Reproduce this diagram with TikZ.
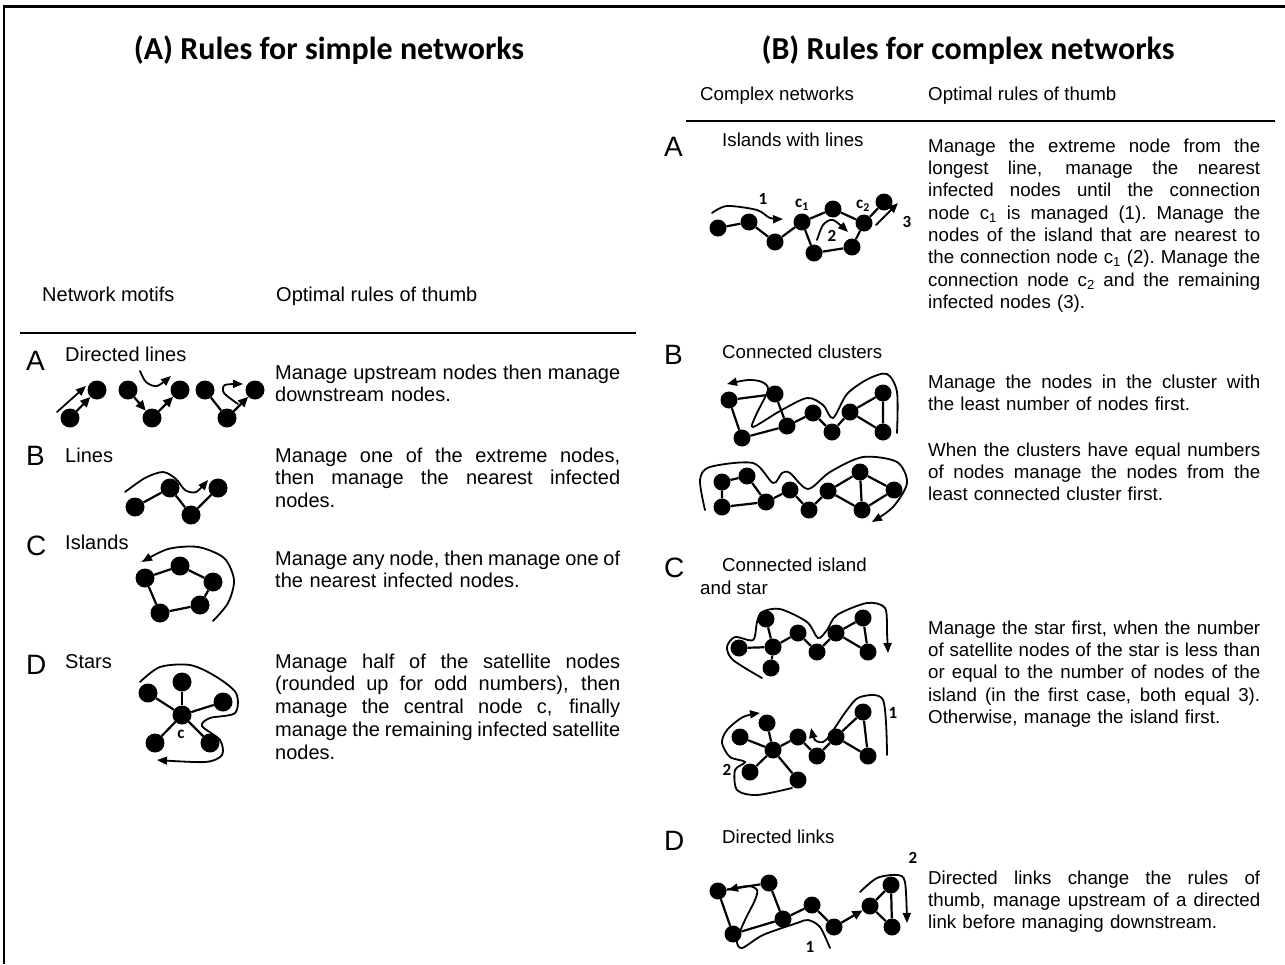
\documentclass[tikz,border=0pt]{standalone}
\usepackage{fontspec}
\setmainfont{Liberation Sans}
\newfontfamily\titlefont{Carlito}
\usetikzlibrary{arrows.meta}
\newcommand\jlA[1]{{\spaceskip=.278em plus 1em minus .1em\xspaceskip=\spaceskip\makebox[345pt][s]{#1}}}
\newcommand\jlB[1]{{\spaceskip=.278em plus 1em minus .1em\xspaceskip=\spaceskip\makebox[332pt][s]{#1}}}
\tikzset{
 dot/.style={circle, fill=black, draw=none, inner sep=0pt, minimum size=19pt},
 sdot/.style={circle, fill=black, draw=none, inner sep=0pt, minimum size=17pt},
 lnk/.style={line width=2.2pt},
 darr/.style={line width=2.2pt, -{Triangle[length=10pt,width=9pt]}},
 mpath/.style={line width=1.8pt, line cap=round, -{Triangle[length=10pt,width=8pt]}},
 txt/.style={font=\fontsize{20}{22.8}\selectfont, inner sep=0pt, anchor=base west, align=left},
 txtr/.style={font=\fontsize{18.7}{22.35}\selectfont, inner sep=0pt, anchor=base west, align=left},
 big/.style={font=\fontsize{28}{30}\selectfont, inner sep=0pt, anchor=base west},
 ttl/.style={font=\titlefont\bfseries\fontsize{32}{34}\selectfont, inner sep=0pt, anchor=base},
 num/.style={font=\titlefont\bfseries\fontsize{17}{18}\selectfont, inner sep=0pt},
}
\begin{document}
\begin{tikzpicture}[x=1pt,y=-1pt]
\useasboundingbox[fill=white] (0,0) rectangle (1285,964);
% frame
\draw[line width=3pt] (3,6) -- (1285,6);
\draw[line width=2pt] (4,5) -- (4,964);
% titles
\node[ttl] (tl) at (329,59) {(A) Rules for simple networks};
\node[ttl] (tr) at (968,59) {(B) Rules for complex networks};

% ===== left panel =====
\node[txt] (hl1) at (42,301) {Network motifs};
\node[txt] (hl2) at (276,301) {Optimal rules of thumb};
\draw[line width=2pt] (20,333) -- (636,333);

\node[big] (LA) at (26,370) {A};
\node[txt] (LAl) at (65,361) {Directed lines};
\node[txt, text width=345pt] (LAt) at (275,379) {\jlA{Manage upstream nodes then manage}\\downstream nodes.};
\node[big] (LB) at (26,465) {B};
\node[txt] (LBl) at (65,462) {Lines};
\node[txt, text width=345pt] (LBt) at (275,462) {\jlA{Manage one of the extreme nodes,}\\\jlA{then manage the nearest infected}\\nodes.};
\node[big] (LC) at (26,555) {C};
\node[txt] (LCl) at (65,549) {Islands};
\node[txt, text width=345pt] (LCt) at (275,565) {\jlA{Manage any node, then manage one of}\\the nearest infected nodes.};
\node[big] (LD) at (26,674) {D};
\node[txt] (LDl) at (65,668) {Stars};
\node[txt, text width=345pt] (LDt) at (275,668) {\jlA{Manage half of the satellite nodes}\\\jlA{(rounded up for odd numbers), then}\\\jlA{manage the central node c, finally}\\\jlA{manage the remaining infected satellite}\\nodes.};

% A directed lines
\node[dot] (a1) at (70,418) {};
\node[dot] (a2) at (97,390) {};
\draw[darr] (a1) -- (a2);
\draw[mpath] (57,412) -- (86,386);
\node[dot] (a3) at (128,390) {};
\node[dot] (a4) at (152,418) {};
\node[dot] (a5) at (180,390) {};
\draw[darr] (a3) -- (a4);
\draw[darr] (a4) -- (a5);
\draw[mpath] plot[smooth] coordinates {(140,371) (146,382) (157,386) (171,376)};
\node[dot] (a6) at (205,390) {};
\node[dot] (a7) at (227,418) {};
\node[dot] (a8) at (255,390) {};
\draw[lnk] (a6) -- (a7);
\draw[darr] (a7) -- (a8);
\draw[mpath] plot[smooth] coordinates {(238,404) (224,393) (225,385) (243,384)};

% B lines
\node[dot] (b1) at (135,507) {};
\node[dot] (b2) at (170,488) {};
\node[dot] (b3) at (191,515) {};
\node[dot] (b4) at (218,488) {};
\draw[lnk] (b1) -- (b2) -- (b3) -- (b4);
\draw[mpath] plot[smooth] coordinates {(125,492) (145,478) (163,472) (176,479) (185,490) (196,492) (208,480)};

% C islands
\node[dot] (c1) at (145,578) {};
\node[dot] (c2) at (180,566) {};
\node[dot] (c3) at (213,582) {};
\node[dot] (c4) at (200,605) {};
\node[dot] (c5) at (160,613) {};
\draw[lnk] (c1) -- (c2) -- (c3) -- (c4) -- (c5) -- (c1);
\draw[mpath] plot[smooth] coordinates {(213,621) (228,603) (234,580) (224,558) (198,547) (168,549) (142,562)};

% D stars
\node[dot] (d0) at (182,715) {};
\node[dot] (d1) at (182,682) {};
\node[dot] (d2) at (148,693) {};
\node[dot] (d3) at (223,702) {};
\node[dot] (d4) at (155,743) {};
\node[dot] (d5) at (210,743) {};
\foreach \s in {d1,d2,d3,d4,d5} \draw[lnk] (d0) -- (\s);
\node[num] (dc) at (181,734) {c};
\draw[mpath] plot[smooth] coordinates {(140,682) (160,667) (190,665) (215,676) (236,693) (235,713) (210,718) (202,726) (220,740) (222,755) (205,762) (157,760)};

% ===== right panel =====
\node[txtr] (hr1) at (700,100) {Complex networks};
\node[txtr] (hr2) at (928,100) {Optimal rules of thumb};
\draw[line width=2pt] (686,121) -- (1275,121);

\node[big] (RA) at (664,156) {A};
\node[txtr] (RAl) at (722,146) {Islands with lines};
\node[txtr, text width=332pt] (RAt) at (928,152) {\jlB{Manage the extreme node from the}\\\jlB{longest line, manage the nearest}\\\jlB{infected nodes until the connection}\\\jlB{node c\textsubscript{1} is managed (1). Manage the}\\\jlB{nodes of the island that are nearest to}\\\jlB{the connection node c\textsubscript{1} (2). Manage the}\\\jlB{connection node c\textsubscript{2} and the remaining}\\infected nodes (3).};
\node[big] (RB) at (664,364) {B};
\node[txtr] (RBl) at (722,358) {Connected clusters};
\node[txtr, text width=332pt] (RBt1) at (928,388) {\jlB{Manage the nodes in the cluster with}\\the least number of nodes first.};
\node[txtr, text width=332pt] (RBt2) at (928,456) {\jlB{When the clusters have equal numbers}\\\jlB{of nodes manage the nodes from the}\\least connected cluster first.};
\node[big] (RC) at (664,577) {C};
\node[txtr] (RCl) at (722,571) {Connected island};
\node[txtr] (RCl2) at (700,594) {and star};
\node[txtr, text width=332pt] (RCt) at (928,634) {\jlB{Manage the star first, when the number}\\\jlB{of satellite nodes of the star is less than}\\\jlB{or equal to the number of nodes of the}\\\jlB{island (in the first case, both equal 3).}\\Otherwise, manage the island first.};
\node[big] (RD) at (664,850) {D};
\node[txtr] (RDl) at (722,843) {Directed links};
\node[txtr, text width=332pt] (RDt) at (928,884) {\jlB{Directed links change the rules of}\\\jlB{thumb, manage upstream of a directed}\\link before managing downstream.};

% A islands with lines
\node[sdot] (r1) at (718,228) {};
\node[sdot] (r2) at (749,222) {};
\node[sdot] (r3) at (775,242) {};
\node[sdot] (r4) at (802,222) {};
\node[sdot] (r5) at (833,209) {};
\node[sdot] (r6) at (864,223) {};
\node[sdot] (r7) at (852,247) {};
\node[sdot] (r8) at (814,253) {};
\node[sdot] (r9) at (884,202) {};
\draw[lnk] (r1) -- (r2) -- (r3) -- (r4) -- (r5) -- (r6) -- (r7) -- (r8) -- (r4);
\draw[lnk] (r6) -- (r9);
\node[num] (rn1) at (763,199) {1};
\node[num] (rc1) at (802,205) {c\textsubscript{1}};
\node[num] (rc2) at (863,206) {c\textsubscript{2}};
\node[num] (rn2) at (832,236) {2};
\node[num] (rn3) at (907,222) {3};
\draw[mpath] plot[smooth] coordinates {(712,213) (727,206) (757,210) (770,218) (783,219)};
\draw[mpath] plot[smooth] coordinates {(817,240) (823,225) (833,220) (848,232)};
\draw[mpath] (876,225) -- (898,203);

% B connected clusters (top)
\node[sdot] (t1) at (729,400) {};
\node[sdot] (t2) at (775,394) {};
\node[sdot] (t3) at (742,438) {};
\node[sdot] (t4) at (787,426) {};
\node[sdot] (t5) at (813,413) {};
\node[sdot] (t6) at (832,432) {};
\node[sdot] (t7) at (850,412) {};
\node[sdot] (t8) at (883,393) {};
\node[sdot] (t9) at (883,432) {};
\draw[lnk] (t2) -- (t1) -- (t3) -- (t4) -- (t2);
\draw[lnk] (t4) -- (t5) -- (t6) -- (t7) -- (t8) -- (t9) -- (t7);
\draw[mpath] plot[smooth] coordinates {(897,433) (897,392) (887,374) (868,379) (847,394) (833,418) (823,405) (807,398) (780,411) (753,427) (756,415) (768,390) (762,382) (748,380) (727,384)};
% B bottom
\node[sdot] (u1) at (722,482) {};
\node[sdot] (u2) at (747,476) {};
\node[sdot] (u3) at (722,507) {};
\node[sdot] (u4) at (766,502) {};
\node[sdot] (u5) at (790,490) {};
\node[sdot] (u6) at (809,510) {};
\node[sdot] (u7) at (828,491) {};
\node[sdot] (u8) at (860,472) {};
\node[sdot] (u9) at (894,490) {};
\node[sdot] (u10) at (862,510) {};
\draw[lnk] (u2) -- (u1) -- (u3) -- (u4) -- (u2);
\draw[lnk] (u4) -- (u5) -- (u6) -- (u7) -- (u8) -- (u10) -- (u7);
\draw[lnk] (u8) -- (u9) -- (u10);
\draw[mpath] plot[smooth] coordinates {(705,510) (700,480) (710,467) (753,463) (773,483) (782,473) (790,473) (808,489) (830,472) (863,457) (897,462) (907,483) (893,507) (872,522)};

% C connected island and star (top)
\node[sdot] (s0) at (773,647) {};
\node[sdot] (s1) at (739,648) {};
\node[sdot] (s2) at (766,619) {};
\node[sdot] (s3) at (771,668) {};
\node[sdot] (s4) at (798,633) {};
\node[sdot] (s5) at (817,652) {};
\node[sdot] (s6) at (836,633) {};
\node[sdot] (s7) at (863,618) {};
\node[sdot] (s8) at (868,652) {};
\foreach \s in {s1,s2,s3,s4} \draw[lnk] (s0) -- (\s);
\draw[lnk] (s4) -- (s5) -- (s6) -- (s7) -- (s8) -- (s6);
\draw[mpath] plot[smooth] coordinates {(762,678) (733,660) (727,647) (735,637) (753,640) (757,622) (762,612) (780,609) (807,622) (818,638) (827,630) (837,615) (867,603) (885,608) (887,633) (888,653)};
% C bottom
\node[sdot] (v0) at (773,750) {};
\node[sdot] (v1) at (740,737) {};
\node[sdot] (v2) at (767,723) {};
\node[sdot] (v3) at (750,772) {};
\node[sdot] (v4) at (798,780) {};
\node[sdot] (v5) at (798,737) {};
\node[sdot] (v6) at (817,756) {};
\node[sdot] (v7) at (836,737) {};
\node[sdot] (v8) at (863,712) {};
\node[sdot] (v9) at (868,756) {};
\foreach \s in {v1,v2,v3,v4,v5} \draw[lnk] (v0) -- (\s);
\draw[lnk] (v5) -- (v6) -- (v7) -- (v8) -- (v9) -- (v7);
\draw[mpath] plot[smooth] coordinates {(887,755) (883,700) (860,697) (847,710) (830,735) (823,742) (815,740) (811,728)};
\draw[mpath] plot[smooth] coordinates {(792,788) (757,795) (737,790) (735,770) (745,762) (730,757) (722,743) (727,730) (743,717) (760,713)};
\node[num] (vn1) at (893,713) {1};
\node[num] (vn2) at (727,770) {2};

% D directed links
\node[sdot] (w1) at (718,891) {};
\node[sdot] (w2) at (769,883) {};
\node[sdot] (w3) at (733,934) {};
\node[sdot] (w4) at (783,919) {};
\node[sdot] (w5) at (812,905) {};
\node[sdot] (w6) at (834,927) {};
\node[sdot] (w7) at (870,906) {};
\node[sdot] (w8) at (891,885) {};
\node[sdot] (w9) at (892,927) {};
\draw[lnk] (w3) -- (w1) -- (w2) -- (w4) -- (w3);
\draw[lnk] (w4) -- (w5) -- (w6);
\draw[darr] (w6) -- (w7);
\draw[lnk] (w7) -- (w8) -- (w9) -- (w7);
\draw[mpath] plot[smooth] coordinates {(830,948) (820,927) (808,920) (797,923) (763,935) (742,948) (737,940) (745,920) (755,900) (757,890) (748,886) (728,890)};
\draw[mpath] plot[smooth] coordinates {(860,892) (877,878) (897,875) (905,882) (907,923)};
\node[num] (wn1) at (810,947) {1};
\node[num] (wn2) at (913,858) {2};
\end{tikzpicture}
\end{document}
